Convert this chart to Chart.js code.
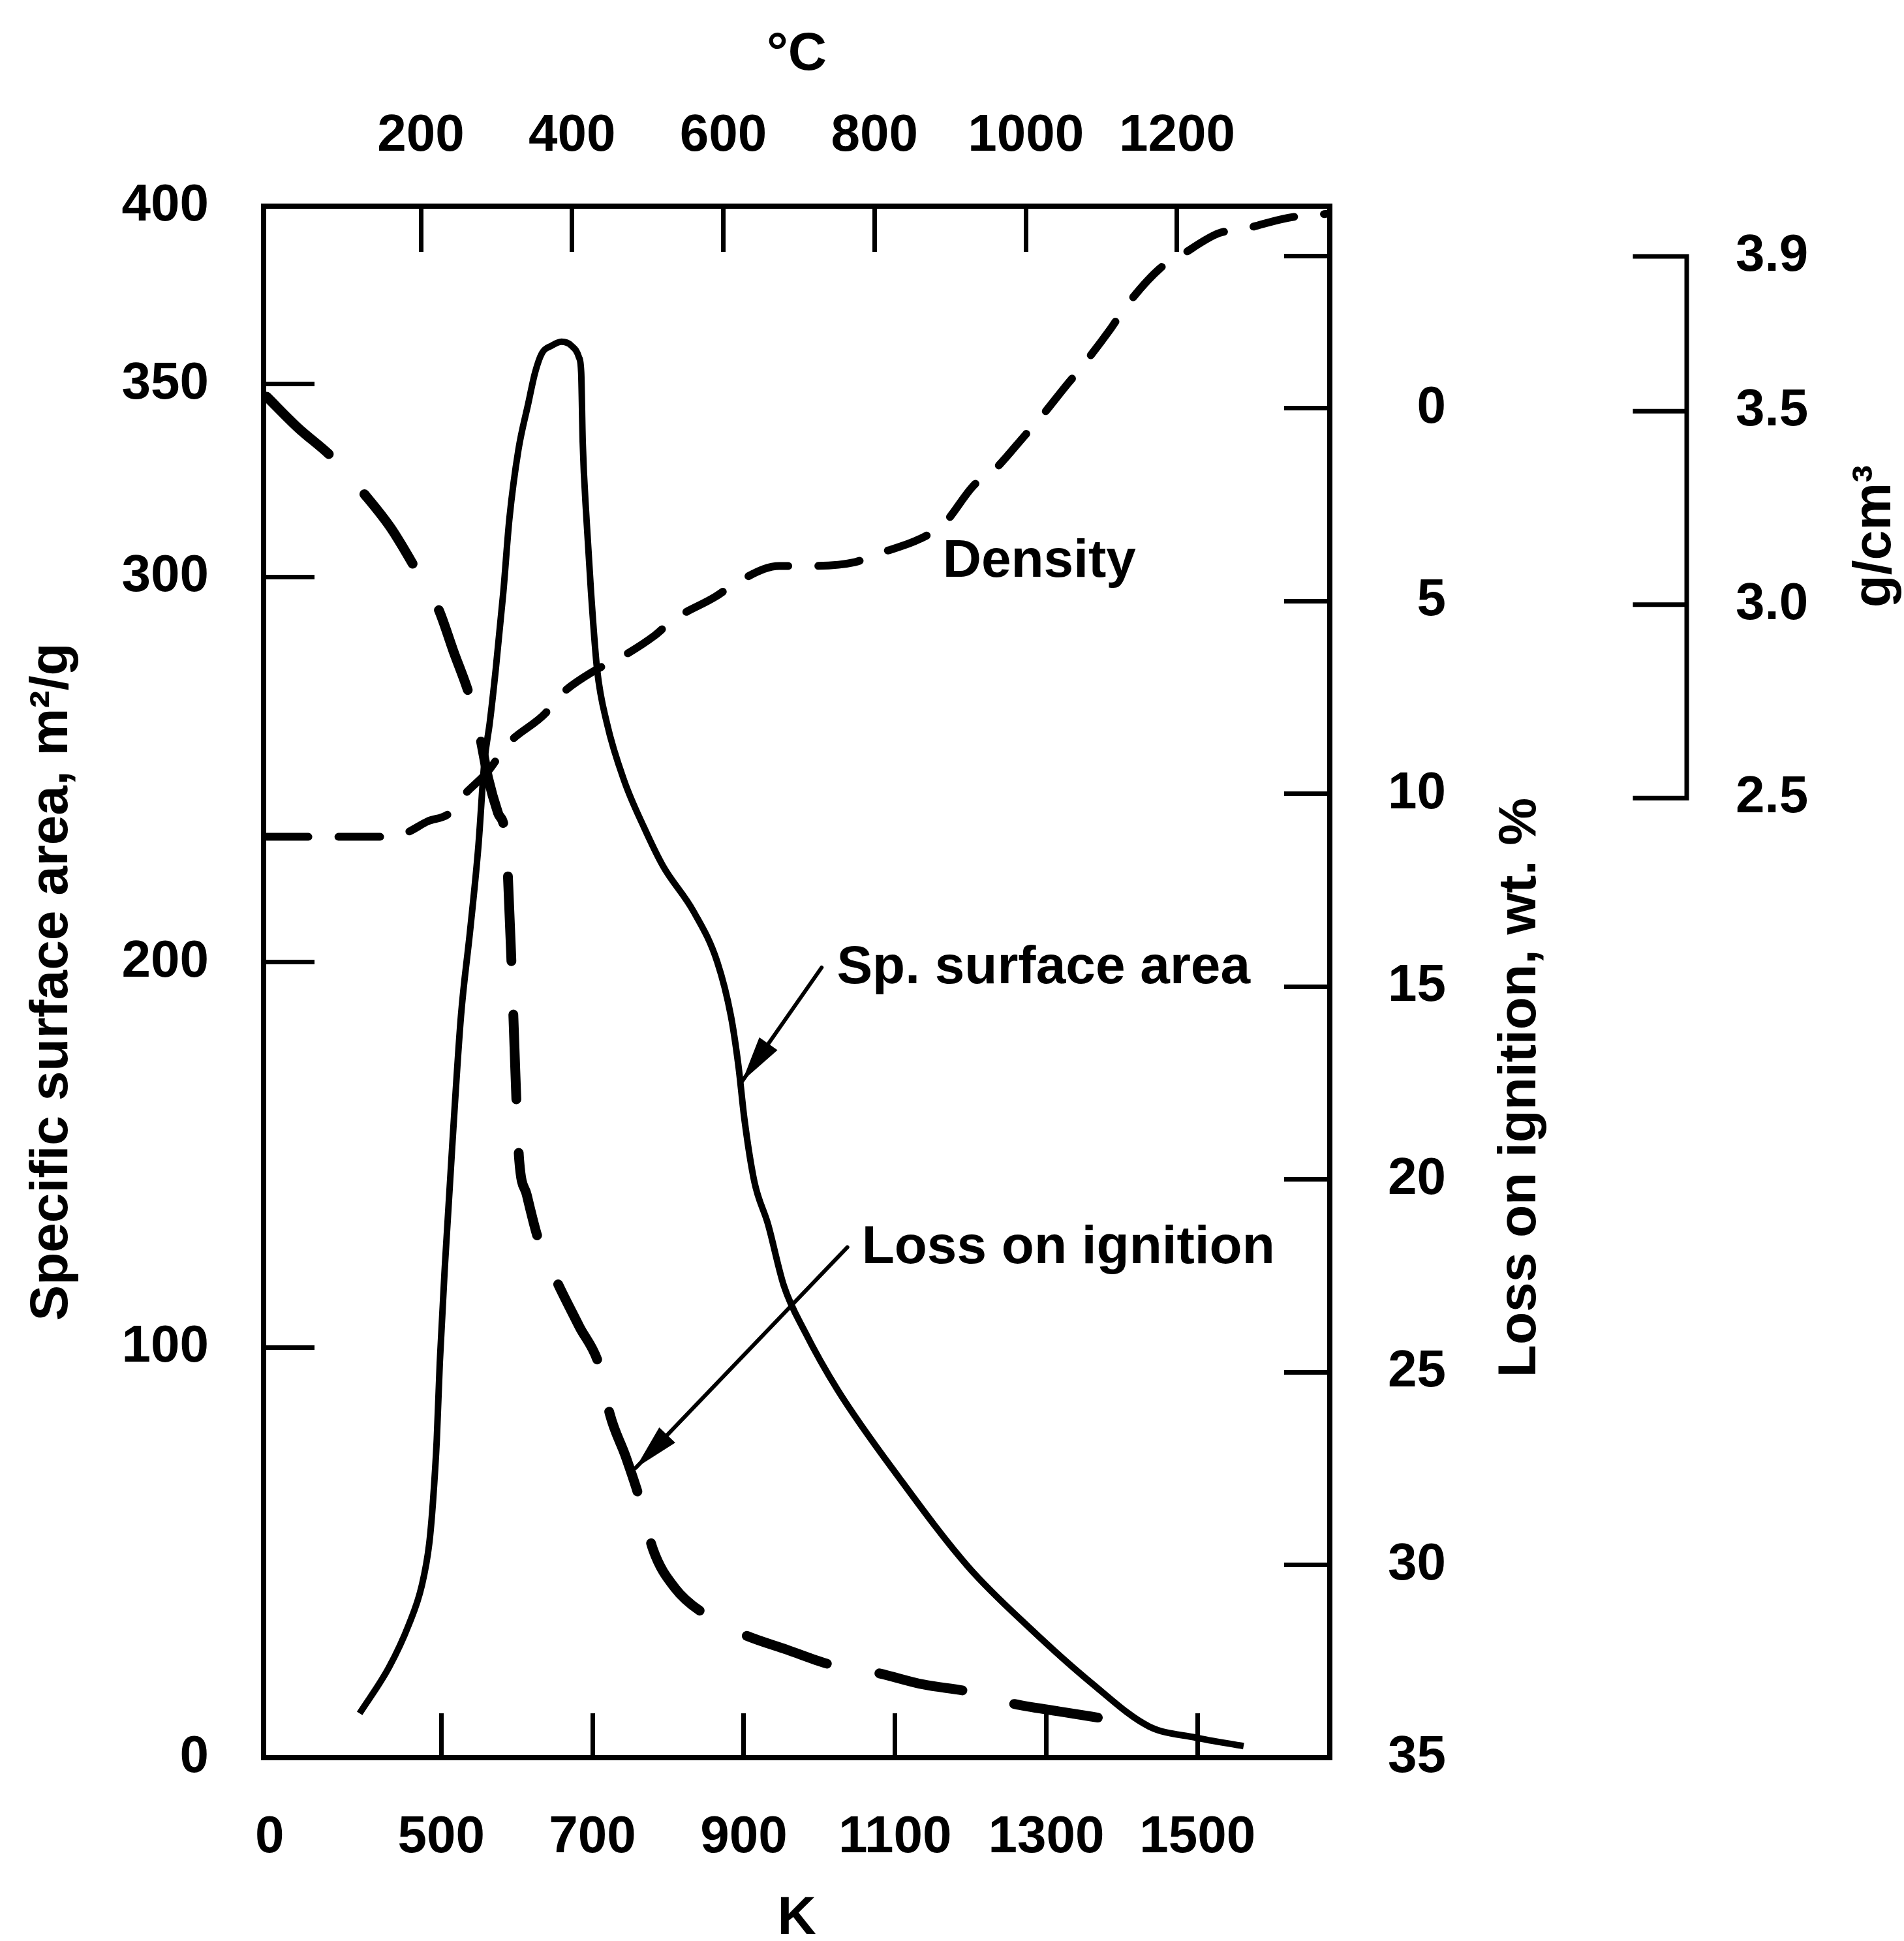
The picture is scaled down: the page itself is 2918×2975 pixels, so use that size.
<!DOCTYPE html>
<html>
<head>
<meta charset="utf-8">
<title>Specific surface area, loss on ignition and density vs temperature</title>
<script src="https://cdn.jsdelivr.net/npm/chart.js@4.4.1/dist/chart.umd.min.js"></script>
<style>
  html, body { margin: 0; padding: 0; background: #fff; }
  canvas { display: block; }
</style>
</head>
<body>
<canvas id="chart" width="2918" height="2975"></canvas>
<script>
// axis ranges (the frame corners carry the "0" / "400" labels)
const K_MIN = 265;
const K_MAX = 1675;
const C_OFFSET = 273;
const SA_MIN = -6.5;
const SA_MAX = 396.2;
const LOI_MIN = -5.24;
const LOI_MAX = 35;
const D_MIN = 0.02;
const D_MAX = 4.03;

// tick values and labels
const kTicks = [273, 500, 700, 900, 1100, 1300, 1500];
const kLabels = ['0', '500', '700', '900', '1100', '1300', '1500'];
const cTicks = [200, 400, 600, 800, 1000, 1200];
const saTicks = [SA_MIN, 100, 200, 300, 350, SA_MAX];
const saLabels = ['0', '100', '200', '300', '350', '400'];
const loiTicks = [-3.95, 0, 5, 10, 15, 20, 25, 30, 35];
const loiLabels = ['', '0', '5', '10', '15', '20', '25', '30', '35'];
const densityTicks = [2.5, 3.0, 3.5, 3.9];

// Sp. surface area (m2/g) vs K
const saK = [392, 431, 457, 474, 484, 489, 494, 498, 505, 515, 526, 538, 549, 557, 564, 572, 582, 590, 602, 615,
  624, 633, 646, 659, 672, 682, 685, 687, 692, 698, 706, 719, 742, 768, 793, 834, 865, 883, 893, 901,
  914, 932, 953, 981, 1024, 1106, 1197, 1279, 1359, 1436, 1498, 1561];
const saVal = [5, 17, 28, 38, 49, 60, 76, 96, 122, 154, 186, 208, 230, 252, 262, 276, 296, 315, 333, 345,
  353, 358, 360, 361, 360, 357, 353, 335, 315, 296, 276, 262, 247, 235, 225, 213, 200, 186, 173, 159,
  143, 132, 116, 104, 89, 66, 43, 27, 13, 1.6, -1.3, -3.5];

// Loss on ignition (wt. %) vs K
const loiK = [269, 310, 357, 397, 433, 467, 496, 516, 538, 551, 562, 575, 584, 588, 593, 597, 600, 603, 613, 629,
  654, 682, 710, 723, 744, 764, 780, 809, 850, 899, 957, 1017, 1076, 1137, 1201, 1256, 1317, 1381];
const loiVal = [-0.3, 0.5, 1.3, 2.2, 3.1, 4.2, 5.2, 6.3, 7.5, 8.5, 9.6, 10.5, 11.0, 12.1, 14.5, 16.7, 18.3, 19.5, 20.4, 21.6,
  22.7, 23.8, 24.9, 26.1, 27.2, 28.4, 29.6, 30.6, 31.3, 31.8, 32.2, 32.6, 32.8, 33.1, 33.3, 33.6, 33.8, 34.0];

// Density (g/cm3) vs K
const dK = [269, 328, 359, 425, 453, 482, 510, 531, 562, 588, 638, 654, 703, 734, 782, 806, 862, 893, 947, 978,
  1047, 1075, 1133, 1165, 1205, 1227, 1273, 1291, 1328, 1345, 1384, 1405, 1451, 1476, 1528, 1559, 1620, 1670];
const dVal = [2.40, 2.40, 2.40, 2.40, 2.41, 2.44, 2.46, 2.51, 2.57, 2.64, 2.72, 2.76, 2.83, 2.86, 2.92, 2.96, 3.02, 3.06, 3.10, 3.10,
  3.11, 3.13, 3.17, 3.21, 3.31, 3.34, 3.44, 3.48, 3.57, 3.61, 3.71, 3.77, 3.87, 3.90, 3.96, 3.97, 4.00, 4.01];

const FONT = "'Liberation Sans', Arial, Helvetica, sans-serif";
const tickFont = { family: FONT, size: 80, weight: 'bold' };
const titleFont = { family: FONT, size: 82, weight: 'bold' };
const INK = '#000';

const toPoints = (xs, ys) => xs.map((v, i) => ({ x: v, y: ys[i] }));
const setTicks = (values) => (scale) => { scale.ticks = values.map((v) => ({ value: v })); };

const innerGrid = (len) => ({
  display: true,
  drawOnChartArea: false,
  drawTicks: true,
  tickLength: -len,
  tickWidth: 7,
  tickColor: INK,
  color: INK,
});
const frameBorder = { display: true, color: INK, width: 8 };

// labels, arrows, the extra density bracket and the two right-hand titles
const frameExtras = {
  id: 'frameExtras',
  afterDraw(chart, args, opts) {
    const { ctx, scales } = chart;
    const x = scales.x;
    const y = scales.y;
    const yD = scales.yD;
    ctx.save();
    ctx.fillStyle = INK;
    ctx.strokeStyle = INK;

    // density bracket
    const bx = yD.left + 369;
    ctx.lineWidth = 7;
    ctx.lineCap = 'square';
    ctx.beginPath();
    ctx.moveTo(bx, yD.getPixelForValue(densityTicks[0]));
    ctx.lineTo(bx, yD.getPixelForValue(densityTicks[densityTicks.length - 1]));
    densityTicks.forEach((v) => {
      const py = yD.getPixelForValue(v);
      ctx.moveTo(bx - 79, py);
      ctx.lineTo(bx, py);
    });
    ctx.stroke();

    // curve labels
    ctx.font = `bold ${titleFont.size}px ${FONT}`;
    ctx.textAlign = 'left';
    ctx.textBaseline = 'alphabetic';
    opts.notes.forEach((n) => {
      ctx.fillText(n.text, x.getPixelForValue(n.k), y.getPixelForValue(n.sa));
    });

    // arrows
    ctx.lineWidth = 6;
    ctx.lineCap = 'round';
    opts.arrows.forEach((a) => {
      const x0 = x.getPixelForValue(a.from[0]);
      const y0 = y.getPixelForValue(a.from[1]);
      const x1 = x.getPixelForValue(a.to[0]);
      const y1 = y.getPixelForValue(a.to[1]);
      ctx.beginPath();
      ctx.moveTo(x0, y0);
      ctx.lineTo(x1, y1);
      ctx.stroke();
      const ang = Math.atan2(y1 - y0, x1 - x0);
      const len = 70;
      const half = 17;
      ctx.beginPath();
      ctx.moveTo(x1, y1);
      ctx.lineTo(x1 - len * Math.cos(ang) + half * Math.sin(ang), y1 - len * Math.sin(ang) - half * Math.cos(ang));
      ctx.lineTo(x1 - len * Math.cos(ang) - half * Math.sin(ang), y1 - len * Math.sin(ang) + half * Math.cos(ang));
      ctx.closePath();
      ctx.fill();
    });

    // titles reading bottom to top on the right side
    ctx.textAlign = 'center';
    ctx.textBaseline = 'middle';
    opts.sideTitles.forEach((t) => {
      ctx.save();
      ctx.translate(t.px, t.py);
      ctx.rotate(-Math.PI / 2);
      ctx.fillText(t.text, 0, 0);
      ctx.restore();
    });
    ctx.restore();
  },
};

new Chart(document.getElementById('chart'), {
  type: 'line',
  data: {
    datasets: [
      {
        label: 'Sp. surface area',
        data: toPoints(saK, saVal),
        xAxisID: 'x',
        yAxisID: 'y',
        borderColor: INK,
        borderWidth: 10,
        cubicInterpolationMode: 'monotone',
      },
      {
        label: 'Loss on ignition',
        data: toPoints(loiK, loiVal),
        xAxisID: 'x',
        yAxisID: 'yL',
        borderColor: INK,
        borderWidth: 15,
        borderDash: [130, 82],
        borderCapStyle: 'round',
        cubicInterpolationMode: 'monotone',
      },
      {
        label: 'Density',
        data: toPoints(dK, dVal),
        xAxisID: 'x',
        yAxisID: 'yD',
        borderColor: INK,
        borderWidth: 12,
        borderDash: [64, 46],
        borderCapStyle: 'round',
        cubicInterpolationMode: 'monotone',
      },
    ],
  },
  options: {
    responsive: false,
    animation: false,
    devicePixelRatio: 1,
    layout: { padding: 0, autoPadding: false },
    elements: { point: { radius: 0 }, line: { fill: false } },
    plugins: {
      legend: { display: false },
      tooltip: { enabled: false },
      frameExtras: {
        notes: [
          { text: 'Density', k: 1163, sa: 300 },
          { text: 'Sp. surface area', k: 1023, sa: 194.5 },
          { text: 'Loss on ignition', k: 1056, sa: 121.8 },
        ],
        arrows: [
          { from: [1003, 198.6], to: [898, 169.1] },
          { from: [1037, 126], to: [757, 68.7] },
        ],
        sideTitles: [
          { text: 'Loss on ignition, wt. %', px: 2330, py: 1667 },
          { text: 'g/cm³', px: 2874, py: 822 },
        ],
      },
    },
    scales: {
      x: {
        type: 'linear',
        position: 'bottom',
        min: K_MIN,
        max: K_MAX,
        afterBuildTicks: setTicks(kTicks),
        afterFit: (s) => { s.height = 281; },
        grid: { ...innerGrid(68), tickColor: (c) => (c.tick && c.tick.value === 273 ? 'rgba(0,0,0,0)' : INK) },
        border: frameBorder,
        ticks: { autoSkip: false, maxRotation: 0, minRotation: 0, padding: 143, color: INK, font: tickFont,
          callback: (v, i) => kLabels[i] },
        title: { display: true, text: 'K', color: INK, font: { ...titleFont, lineHeight: 0.5 }, padding: { top: 0, bottom: 13 } },
      },
      x2: {
        type: 'linear',
        position: 'top',
        min: K_MIN - C_OFFSET,
        max: K_MAX - C_OFFSET,
        afterBuildTicks: setTicks(cTicks),
        afterFit: (s) => { s.height = 316; },
        grid: innerGrid(70),
        border: frameBorder,
        ticks: { autoSkip: false, maxRotation: 0, minRotation: 0, padding: 129, color: INK, font: tickFont,
          callback: (v) => String(v) },
        title: { display: true, text: '°C', color: INK, font: titleFont, padding: { top: 35, bottom: 0 } },
      },
      y: {
        type: 'linear',
        position: 'left',
        min: SA_MIN,
        max: SA_MAX,
        afterBuildTicks: setTicks(saTicks),
        afterFit: (s) => { s.width = 404; },
        grid: innerGrid(78),
        border: frameBorder,
        ticks: { autoSkip: false, crossAlign: 'near', padding: 162, color: INK, font: tickFont,
          callback: (v, i) => saLabels[i] },
        title: { display: true, text: 'Specific surface area, m²/g', color: INK, font: titleFont, padding: { top: 31, bottom: 0 } },
      },
      yL: {
        type: 'linear',
        position: 'right',
        reverse: true,
        weight: 0,
        min: LOI_MIN,
        max: LOI_MAX,
        afterBuildTicks: setTicks(loiTicks),
        afterFit: (s) => { s.width = 178; },
        grid: innerGrid(70),
        border: frameBorder,
        ticks: { autoSkip: false, crossAlign: 'far', padding: 159, color: INK, font: tickFont,
          callback: (v, i) => loiLabels[i] },
      },
      yD: {
        type: 'linear',
        position: 'right',
        weight: 1,
        min: D_MIN,
        max: D_MAX,
        afterBuildTicks: setTicks(densityTicks),
        afterFit: (s) => { s.width = 702; },
        // grid hidden; tickLength only sets the label offset (bracket is drawn by the plugin)
        grid: { display: false, drawTicks: true, tickLength: 444, drawOnChartArea: false },
        border: { display: false },
        ticks: { autoSkip: false, crossAlign: 'near', padding: 0, color: INK, font: tickFont,
          callback: (v) => v.toFixed(1) },
      },
    },
  },
  plugins: [frameExtras],
});
</script>
</body>
</html>
